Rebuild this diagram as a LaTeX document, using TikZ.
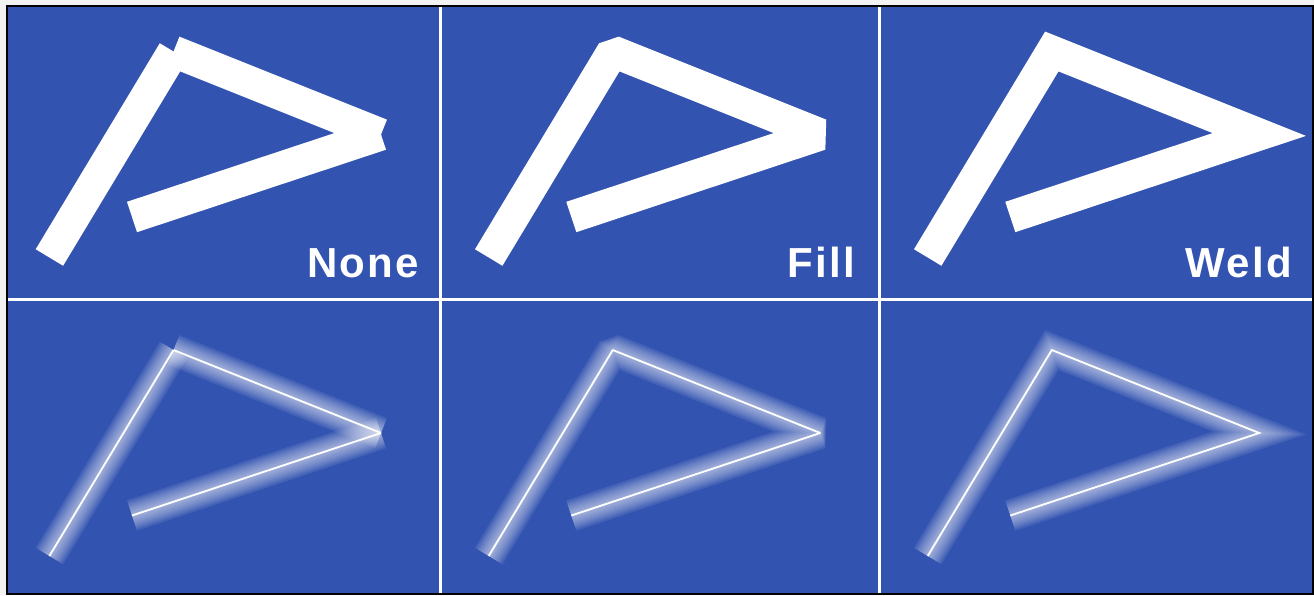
\documentclass[tikz,border=0pt]{standalone}
\usepackage{fontspec}
\newfontfamily\tagfont[LetterSpace=5]{Liberation Sans}
\usetikzlibrary{positioning}
\definecolor{panelblue}{RGB}{50,83,176}

% the four corners of the sample stroke, in panel pixels
\newcommand{\strokepts}{%
  \coordinate (p1) at (49.4,257.5);
  \coordinate (p2) at (173.5,51.5);
  \coordinate (p3) at (381,134.5);
  \coordinate (p4) at (132,217);}

\begin{document}
\begin{tikzpicture}[
                x=1pt, y=-1pt,
                bar/.style={
                    draw=white,
                    line width=32pt
                },
                glowline/.style={
                    draw=white,
                    line width=#1,
                    opacity=0.09
                },
                hair/.style={
                    draw=white,
                    line width=1.8pt
                },
                sep/.style={
                    draw=white,
                    line width=2.5pt
                },
                lbl/.style={
                    anchor=base east,
                    text=white,
                    inner sep=0pt,
                    font=\tagfont\bfseries\fontsize{42}{48}\selectfont
                }
            ]

                \useasboundingbox (0,0) rectangle (1314,595);
                \fill[gray!10] (0,0) rectangle (1314,595);
                \fill[black] (6,5) rectangle (1314,595);
                \fill[panelblue] (8,7) rectangle (1312,593);

                \draw[sep] (440.5,7) -- (440.5,593);
                \draw[sep] (879.5,7) -- (879.5,593);
                \draw[sep] (8,299.5) -- (1312,299.5);

                % top row: thick strokes
                \begin{scope}
                    \strokepts
                    \draw[bar] (p1) -- (p2);
                    \draw[bar] (p2) -- (p3);
                    \draw[bar] (p3) -- (p4);
                \end{scope}
                \begin{scope}[shift={(439.3,0)}]
                    \strokepts
                    \draw[bar, line join=bevel] (p1) -- (p2) -- (p3) -- (p4);
                \end{scope}
                \begin{scope}[shift={(878.3,0)}]
                    \strokepts
                    \draw[bar, line join=miter] (p1) -- (p2) -- (p3) -- (p4);
                \end{scope}

                % bottom row: hairlines with a soft glow
                \begin{scope}[shift={(0,298.5)}]
                    \strokepts
                    \foreach \w in {32,28,...,4} {
                        \draw[glowline=\w pt] (p1) -- (p2);
                        \draw[glowline=\w pt] (p2) -- (p3);
                        \draw[glowline=\w pt] (p3) -- (p4);
                    }
                    \draw[hair] (p1) -- (p2);
                    \draw[hair] (p2) -- (p3);
                    \draw[hair] (p3) -- (p4);
                \end{scope}
                \begin{scope}[shift={(439.3,298.5)}]
                    \strokepts
                    \foreach \w in {32,28,...,4} {
                        \draw[glowline=\w pt, line join=bevel] (p1) -- (p2) -- (p3) -- (p4);
                    }
                    \draw[hair, line join=bevel] (p1) -- (p2) -- (p3) -- (p4);
                \end{scope}
                \begin{scope}[shift={(878.3,298.5)}]
                    \strokepts
                    \foreach \w in {32,28,...,4} {
                        \draw[glowline=\w pt, line join=miter] (p1) -- (p2) -- (p3) -- (p4);
                    }
                    \draw[hair, line join=miter] (p1) -- (p2) -- (p3) -- (p4);
                \end{scope}

                \node[lbl] (none) at (419,277) {None};
                \node[lbl] (fill) at (855,277) {Fill};
                \node[lbl] (weld) at (1292,277) {Weld};

            \end{tikzpicture}
\end{document}
